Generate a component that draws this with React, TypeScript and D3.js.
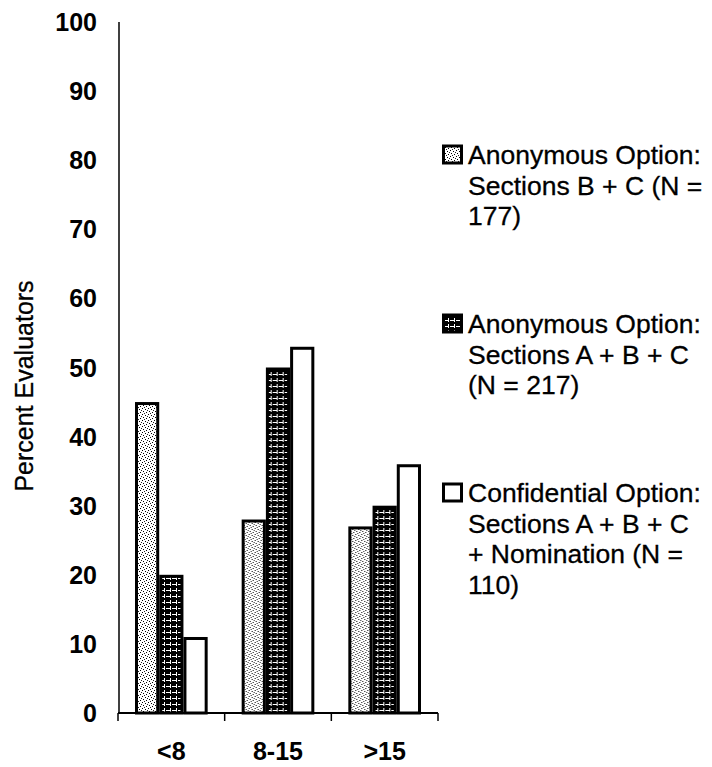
import React from "react";
import * as d3 from "d3";

const categories = ["<8", "8-15", ">15"];
const seriesNames = ["anonBC", "anonABC", "confidential"];
const anonBC = [45, 28, 27];
const anonABC = [20, 50, 30];
const confidential = [11, 53, 36];
const yTicks = [0, 10, 20, 30, 40, 50, 60, 70, 80, 90, 100];
const legendLines = [
  ["Anonymous Option:", "Sections B + C (N =", "177)"],
  ["Anonymous Option:", "Sections A + B + C", "(N = 217)"],
  ["Confidential Option:", "Sections A + B + C", "+ Nomination (N =", "110)"],
];

const W = 712;
const H = 767;
const FONT = "'Liberation Sans', Arial, sans-serif";

export default function App() {
  const seriesValues = [anonBC, anonABC, confidential];
  const fills = ["url(#stipple)", "url(#grid)", "#ffffff"];

  const x0 = d3.scaleBand<string>().domain(categories).range([118, 438]).padding(0);
  const x1 = d3
    .scaleBand<string>()
    .domain(seriesNames)
    .range([17, x0.bandwidth() - 17])
    .padding(0);
  const y = d3.scaleLinear().domain([0, 100]).range([713, 22]);

  const legendTop = [164, 333, 502];
  const lineH = 30.5;

  return (
    <svg
      width={W}
      height={H}
      style={{ position: "absolute", left: 0, top: 0, background: "#fff" }}
    >
      <defs>
        <pattern id="stipple" patternUnits="userSpaceOnUse" width={6} height={6}>
          <rect width={6} height={6} fill="#fff" />
          <rect x={0} y={0} width={1} height={1} fill="#000" />
          <rect x={3} y={1} width={1} height={1} fill="#000" />
          <rect x={1} y={3} width={1} height={1} fill="#000" />
          <rect x={4} y={4} width={1} height={1} fill="#000" />
          <rect x={2} y={5} width={1} height={1} fill="#222" />
          <rect x={5} y={2} width={1} height={1} fill="#222" />
        </pattern>
        <pattern id="grid" patternUnits="userSpaceOnUse" width={6} height={6}>
          <rect width={6} height={6} fill="#000" />
          <rect x={0} y={2} width={4} height={1} fill="#fff" />
          <rect x={4} y={0} width={1} height={4} fill="#fff" />
        </pattern>
      </defs>

      {/* Y axis title */}
      <text
        transform={`translate(33, ${386}) rotate(-90)`}
        textAnchor="middle"
        fontFamily={FONT}
        fontSize={25}
        fill="#000"
        stroke="#000"
        strokeWidth={0.3}
      >
        Percent Evaluators
      </text>

      {/* Y tick labels */}
      {yTicks.map((t) => (
        <text
          key={t}
          x={97}
          y={y(t)}
          dy="0.36em"
          textAnchor="end"
          fontFamily={FONT}
          fontWeight="bold"
          fontSize={25}
          fill="#000"
        >
          {t}
        </text>
      ))}

      {/* Bars */}
      {categories.map((c, ci) => (
        <g key={c} transform={`translate(${x0(c)},0)`}>
          {seriesNames.map((s, si) => {
            const v = seriesValues[si][ci];
            const bx = x1(s)!;
            const bw = x1.bandwidth();
            return (
              <rect
                key={s}
                x={bx + 1.5}
                y={y(v) + 1.5}
                width={bw - 3}
                height={y(0) - y(v) - 1.5}
                fill={fills[si]}
                stroke="#000"
                strokeWidth={3}
              />
            );
          })}
        </g>
      ))}

      {/* Axes */}
      <line x1={119} x2={119} y1={y(100)} y2={y(0)} stroke="#000" strokeWidth={1.5} />
      <line x1={118} x2={438} y1={y(0)} y2={y(0)} stroke="#000" strokeWidth={2} />
      {[...categories.map((c) => x0(c)!), 438].map((tx, i) => (
        <line key={i} x1={tx} x2={tx} y1={y(0)} y2={y(0) + 8} stroke="#000" strokeWidth={1.5} />
      ))}

      {/* X labels */}
      {categories.map((c) => (
        <text
          key={c}
          x={x0(c)! + x0.bandwidth() / 2}
          y={760}
          textAnchor="middle"
          fontFamily={FONT}
          fontWeight="bold"
          fontSize={25}
          fill="#000"
        >
          {c}
        </text>
      ))}

      {/* Legend */}
      {legendLines.map((lines, li) => (
        <g key={li}>
          <rect
            x={443.5}
            y={legendTop[li] - 18}
            width={18}
            height={17}
            fill={fills[li]}
            stroke="#000"
            strokeWidth={3}
          />
          {lines.map((ln, k) => (
            <text
              key={k}
              x={468}
              y={legendTop[li] + k * lineH}
              fontFamily={FONT}
              fontSize={26.5}
              fill="#000"
              stroke="#000"
              strokeWidth={0.3}
            >
              {ln}
            </text>
          ))}
        </g>
      ))}
    </svg>
  );
}
